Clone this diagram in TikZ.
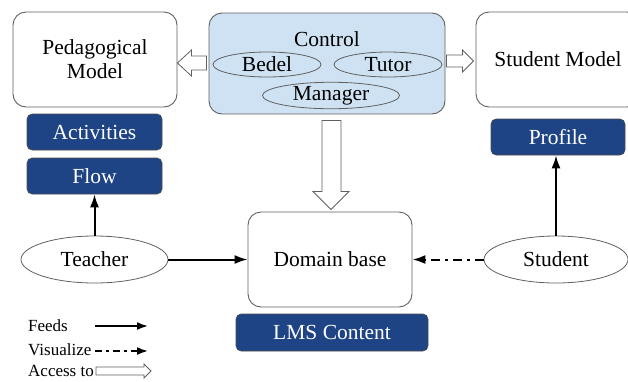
\documentclass[tikz,border=0pt]{standalone}
\usepackage{fontspec}
\setmainfont{Liberation Serif}
\newfontfamily\tnr{Liberation Serif}
\usetikzlibrary{arrows.meta,calc,shapes.geometric}
\definecolor{darkblue}{HTML}{1E4486}
\definecolor{lightblue}{HTML}{CFE2F3}
\definecolor{edgegray}{HTML}{606060}
\tikzset{
  big/.style={font=\tnr\fontsize{21.5}{24}\selectfont},
  wbox/.style={draw=edgegray,line width=0.9pt,rounded corners=13pt,fill=white,big,align=center,inner sep=0pt},
  bbox/.style={draw=black!70,line width=0.6pt,fill=darkblue,text=white,rounded corners=5pt,big,inner sep=0pt},
  oval/.style={ellipse,draw=edgegray,line width=0.8pt,big,inner sep=0pt},
  feed/.style={line width=2pt,-{Latex[length=13pt,width=9pt]}},
  visual/.style={line width=2pt,dash pattern=on 9pt off 5pt on 3pt off 5pt,-{Latex[length=13pt,width=9pt]}},
  hollow/.style={draw=edgegray,line width=0.8pt,fill=white,line join=miter},
  legtext/.style={font=\tnr\fontsize{17}{19}\selectfont,anchor=west,inner sep=0pt}
}
\begin{document}
\begin{tikzpicture}[x=1pt,y=-1pt]
\useasboundingbox (0,0) rectangle (628,381);
% top row
\node[wbox,minimum width=164pt,minimum height=95pt] (ped) at (95,59.5) {Pedagogical\\Model};
\node[draw=edgegray,line width=0.9pt,rounded corners=13pt,fill=lightblue,minimum width=236pt,minimum height=101pt] (ctrl) at (327,63.5) {};
\node[big,inner sep=0pt] (ctrltext) at (327,39) {Control};
\node[oval,minimum width=108pt,minimum height=25pt] (bedel) at (267,64.5) {Bedel};
\node[oval,minimum width=108pt,minimum height=25pt] (tutor) at (388,64.5) {Tutor};
\node[oval,minimum width=137pt,minimum height=25pt] (manager) at (331,95.5) {Manager};
\node[wbox,minimum width=164pt,minimum height=95pt] (stm) at (558,59.5) {Student Model};
% blue boxes
\node[bbox,minimum width=135pt,minimum height=36pt] (act) at (94.5,132) {Activities};
\node[bbox,minimum width=135pt,minimum height=36pt] (flow) at (94.5,176) {Flow};
\node[bbox,minimum width=134pt,minimum height=36pt] (prof) at (558,137) {Profile};
% middle row
\node[wbox,minimum width=164pt,minimum height=95pt] (dom) at (330,259.5) {Domain base};
\node[bbox,minimum width=192pt,minimum height=37pt] (lms) at (332,332.5) {LMS Content};
\node[oval,minimum width=147pt,minimum height=47pt] (teacher) at (94.5,259.5) {Teacher};
\node[oval,minimum width=144pt,minimum height=47pt] (student) at (556,259.5) {Student};
% connectors
\draw[feed] (teacher.north) -- (flow.south);
\draw[feed] (student.north) -- (student.north |- prof.south);
\draw[feed] (teacher.east) -- (dom.west);
\draw[visual] (student.west) -- (dom.east);
% hollow arrows
\coordinate (la) at ($(ped.east)+(0,3.5)$);
\draw[hollow] (la) -- ++(14,-13) -- ++(0,6) -- ++(15,0) -- ++(0,14) -- ++(-15,0) -- ++(0,6) -- cycle;
\coordinate (ra) at ($(stm.west)+(-2,1.5)$);
\draw[hollow] (ra) -- ++(-11,-11) -- ++(0,5) -- ++(-16,0) -- ++(0,12) -- ++(16,0) -- ++(0,5) -- cycle;
\coordinate (da) at ($(dom.north)+(1,-2)$);
\draw[hollow] (da) -- ++(-18,-18) -- ++(9,0) -- ++(0,-71) -- ++(19,0) -- ++(0,71) -- ++(8,0) -- cycle;
% legend
\node[legtext] (lf) at (28,326) {Feeds};
\node[legtext] (lv) at (28,350) {Visualize};
\node[legtext] (lacc) at (28,371) {Access to};
\coordinate (f1) at (95,326);
\coordinate (f2) at (148,326);
\coordinate (v1) at (95,351);
\coordinate (v2) at (148,351);
\draw[feed,line width=1.8pt,-{Latex[length=11pt,width=8pt]}] (f1) -- (f2);
\draw[visual,line width=1.8pt,dash pattern=on 7pt off 4pt on 3pt off 4pt,-{Latex[length=11pt,width=8pt]}] (v1) -- (v2);
\coordinate (a1) at (lacc.east);
\draw[hollow] ($(a1)+(2,-4)$) -- ++(48,0) -- ++(0,-3) -- ++(7,7) -- ++(-7,7) -- ++(0,-3) -- ++(-48,0) -- cycle;
\end{tikzpicture}
\end{document}
